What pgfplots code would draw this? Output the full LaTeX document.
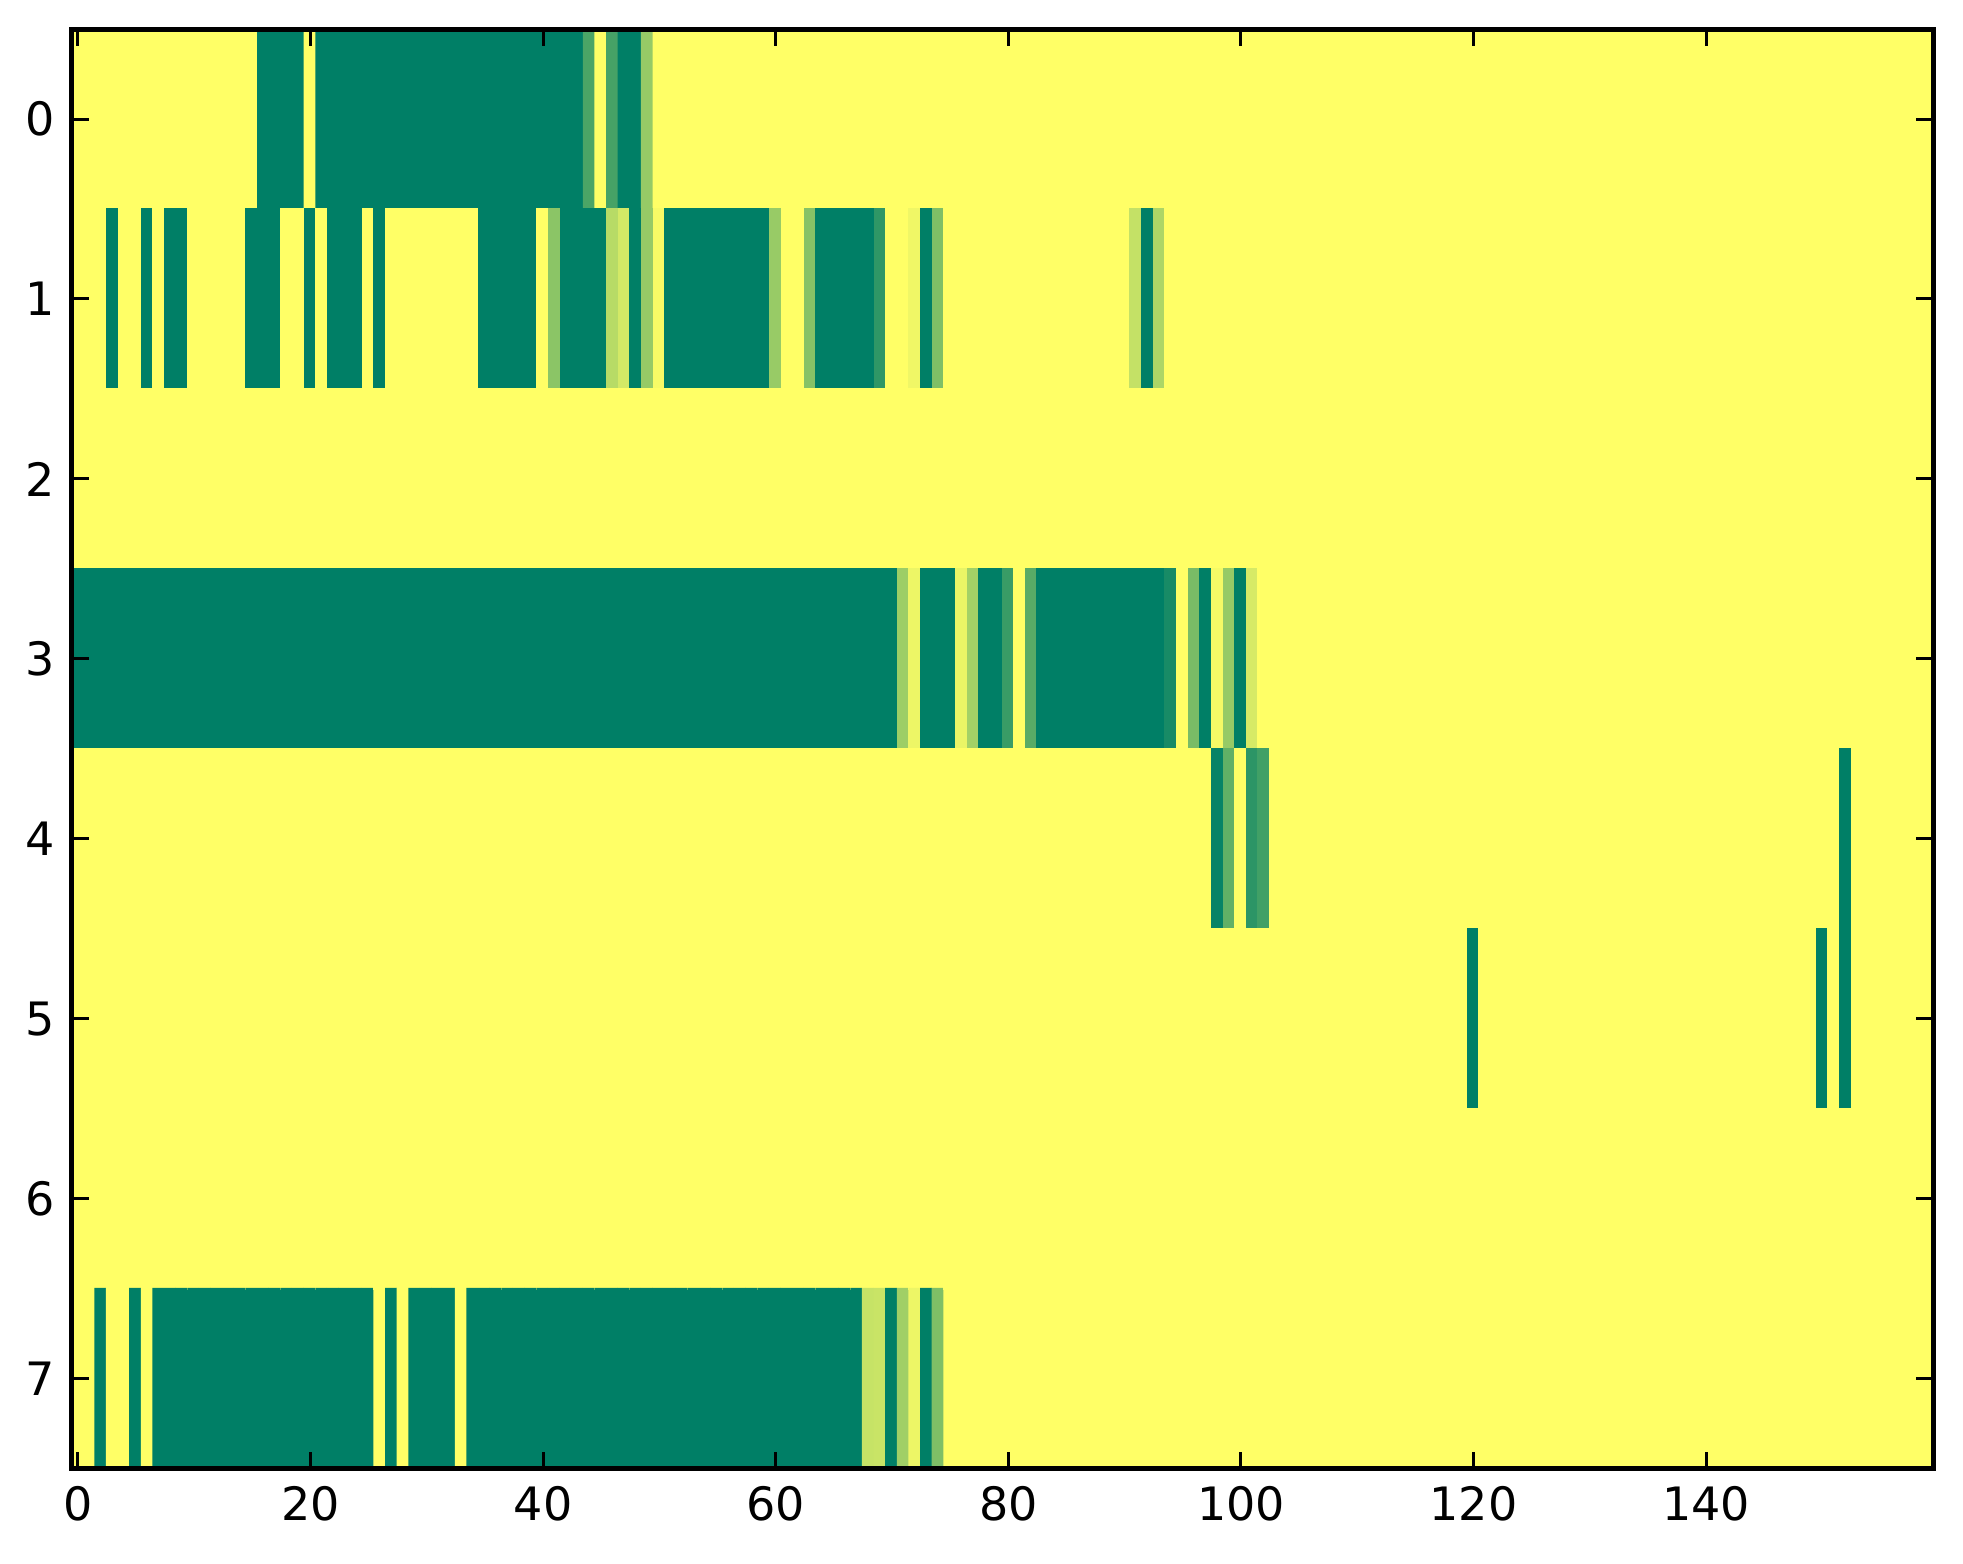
\documentclass[border=0pt]{standalone}
\usepackage{fontspec}
\setmainfont{DejaVu Sans}
\usepackage{pgfplots}
\usepackage{pgfplotstable}
\pgfplotsset{compat=1.18}
\pgfplotstableread[row sep=\\]{
c\\
0\\0\\0\\0\\0\\0\\0\\0\\0\\0\\0\\0\\0\\0\\0\\0\\1\\1\\1\\1\\
0\\1\\1\\1\\1\\1\\1\\1\\1\\1\\1\\1\\1\\1\\1\\1\\1\\1\\1\\1\\
1\\1\\1\\1\\0.7\\0\\0.72\\1\\1\\0.41\\0\\0\\0\\0\\0\\0\\0\\0\\0\\0\\
0\\0\\0\\0\\0\\0\\0\\0\\0\\0\\0\\0\\0\\0\\0\\0\\0\\0\\0\\0\\
0\\0\\0\\0\\0\\0\\0\\0\\0\\0\\0\\0\\0\\0\\0\\0\\0\\0\\0\\0\\
0\\0\\0\\0\\0\\0\\0\\0\\0\\0\\0\\0\\0\\0\\0\\0\\0\\0\\0\\0\\
0\\0\\0\\0\\0\\0\\0\\0\\0\\0\\0\\0\\0\\0\\0\\0\\0\\0\\0\\0\\
0\\0\\0\\0\\0\\0\\0\\0\\0\\0\\0\\0\\0\\0\\0\\0\\0\\0\\0\\0\\
0\\0\\0\\1\\0\\0\\1\\0\\1\\1\\0\\0\\0\\0\\0\\1\\1\\1\\0\\0\\
1\\0\\1\\1\\1\\0\\1\\0\\0\\0\\0\\0\\0\\0\\0\\1\\1\\1\\1\\1\\
0\\0.45\\1\\1\\1\\1\\0.28\\0.17\\1\\0.41\\0.03\\1\\1\\1\\1\\1\\1\\1\\1\\1\\
0.4\\0\\0\\0.47\\1\\1\\1\\1\\1\\0.81\\0\\0\\0.06\\1\\0.5\\0\\0\\0\\0\\0\\
0\\0\\0\\0\\0\\0\\0\\0\\0\\0\\0\\0.23\\1\\0.32\\0\\0\\0\\0\\0\\0\\
0\\0\\0\\0\\0\\0\\0\\0\\0\\0\\0\\0\\0\\0\\0\\0\\0\\0\\0\\0\\
0\\0\\0\\0\\0\\0\\0\\0\\0\\0\\0\\0\\0\\0\\0\\0\\0\\0\\0\\0\\
0\\0\\0\\0\\0\\0\\0\\0\\0\\0\\0\\0\\0\\0\\0\\0\\0\\0\\0\\0\\
0\\0\\0\\0\\0\\0\\0\\0\\0\\0\\0\\0\\0\\0\\0\\0\\0\\0\\0\\0\\
0\\0\\0\\0\\0\\0\\0\\0\\0\\0\\0\\0\\0\\0\\0\\0\\0\\0\\0\\0\\
0\\0\\0\\0\\0\\0\\0\\0\\0\\0\\0\\0\\0\\0\\0\\0\\0\\0\\0\\0\\
0\\0\\0\\0\\0\\0\\0\\0\\0\\0\\0\\0\\0\\0\\0\\0\\0\\0\\0\\0\\
0\\0\\0\\0\\0\\0\\0\\0\\0\\0\\0\\0\\0\\0\\0\\0\\0\\0\\0\\0\\
0\\0\\0\\0\\0\\0\\0\\0\\0\\0\\0\\0\\0\\0\\0\\0\\0\\0\\0\\0\\
0\\0\\0\\0\\0\\0\\0\\0\\0\\0\\0\\0\\0\\0\\0\\0\\0\\0\\0\\0\\
0\\0\\0\\0\\0\\0\\0\\0\\0\\0\\0\\0\\0\\0\\0\\0\\0\\0\\0\\0\\
1\\1\\1\\1\\1\\1\\1\\1\\1\\1\\1\\1\\1\\1\\1\\1\\1\\1\\1\\1\\
1\\1\\1\\1\\1\\1\\1\\1\\1\\1\\1\\1\\1\\1\\1\\1\\1\\1\\1\\1\\
1\\1\\1\\1\\1\\1\\1\\1\\1\\1\\1\\1\\1\\1\\1\\1\\1\\1\\1\\1\\
1\\1\\1\\1\\1\\1\\1\\1\\1\\1\\1\\0.38\\0.07\\1\\1\\1\\0.08\\0.36\\1\\1\\
0.77\\0\\0.65\\1\\1\\1\\1\\1\\1\\1\\1\\1\\1\\1\\0.9\\0\\0.52\\1\\0.04\\0.41\\
1\\0.16\\0\\0\\0\\0\\0\\0\\0\\0\\0\\0\\0\\0\\0\\0\\0\\0\\0\\0\\
0\\0\\0\\0\\0\\0\\0\\0\\0\\0\\0\\0\\0\\0\\0\\0\\0\\0\\0\\0\\
0\\0\\0\\0\\0\\0\\0\\0\\0\\0\\0\\0\\0\\0\\0\\0\\0\\0\\0\\0\\
0\\0\\0\\0\\0\\0\\0\\0\\0\\0\\0\\0\\0\\0\\0\\0\\0\\0\\0\\0\\
0\\0\\0\\0\\0\\0\\0\\0\\0\\0\\0\\0\\0\\0\\0\\0\\0\\0\\0\\0\\
0\\0\\0\\0\\0\\0\\0\\0\\0\\0\\0\\0\\0\\0\\0\\0\\0\\0\\0\\0\\
0\\0\\0\\0\\0\\0\\0\\0\\0\\0\\0\\0\\0\\0\\0\\0\\0\\0\\0\\0\\
0\\0\\0\\0\\0\\0\\0\\0\\0\\0\\0\\0\\0\\0\\0\\0\\0\\0\\0.96\\0.61\\
0\\0.82\\0.74\\0\\0\\0\\0\\0\\0\\0\\0\\0\\0\\0\\0\\0\\0\\0\\0\\0\\
0\\0\\0\\0\\0\\0\\0\\0\\0\\0\\0\\0\\0\\0\\0\\0\\0\\0\\0\\0\\
0\\0\\0\\0\\0\\0\\0\\0\\0\\0\\0\\0\\1\\0\\0\\0\\0\\0\\0\\0\\
0\\0\\0\\0\\0\\0\\0\\0\\0\\0\\0\\0\\0\\0\\0\\0\\0\\0\\0\\0\\
0\\0\\0\\0\\0\\0\\0\\0\\0\\0\\0\\0\\0\\0\\0\\0\\0\\0\\0\\0\\
0\\0\\0\\0\\0\\0\\0\\0\\0\\0\\0\\0\\0\\0\\0\\0\\0\\0\\0\\0\\
0\\0\\0\\0\\0\\0\\0\\0\\0\\0\\0\\0\\0\\0\\0\\0\\0\\0\\0\\0\\
0\\0\\0\\0\\0\\0\\0\\0\\0\\0\\0\\0\\0\\0\\0\\0\\0\\0\\0\\0\\
0\\0\\0\\0\\0\\0\\0\\0\\0\\0\\0\\0\\0\\0\\0\\0\\0\\0\\0\\0\\
1\\0\\0\\0\\0\\0\\0\\0\\0\\0\\0\\0\\0\\0\\0\\0\\0\\0\\0\\0\\
0\\0\\0\\0\\0\\0\\0\\0\\0\\0\\1\\0\\1\\0\\0\\0\\0\\0\\0\\0\\
0\\0\\0\\0\\0\\0\\0\\0\\0\\0\\0\\0\\0\\0\\0\\0\\0\\0\\0\\0\\
0\\0\\0\\0\\0\\0\\0\\0\\0\\0\\0\\0\\0\\0\\0\\0\\0\\0\\0\\0\\
0\\0\\0\\0\\0\\0\\0\\0\\0\\0\\0\\0\\0\\0\\0\\0\\0\\0\\0\\0\\
0\\0\\0\\0\\0\\0\\0\\0\\0\\0\\0\\0\\0\\0\\0\\0\\0\\0\\0\\0\\
0\\0\\0\\0\\0\\0\\0\\0\\0\\0\\0\\0\\0\\0\\0\\0\\0\\0\\0\\0\\
0\\0\\0\\0\\0\\0\\0\\0\\0\\0\\0\\0\\0\\0\\0\\0\\0\\0\\0\\0\\
0\\0\\0\\0\\0\\0\\0\\0\\0\\0\\0\\0\\0\\0\\0\\0\\0\\0\\0\\0\\
0\\0\\0\\0\\0\\0\\0\\0\\0\\0\\0\\0\\0\\0\\0\\0\\0\\0\\0\\0\\
0\\0\\1\\0\\0\\1\\0\\1\\1\\1\\1\\1\\1\\1\\1\\1\\1\\1\\1\\1\\
1\\1\\1\\1\\1\\1\\0\\1\\0\\1\\1\\1\\1\\0\\1\\1\\1\\1\\1\\1\\
1\\1\\1\\1\\1\\1\\1\\1\\1\\1\\1\\1\\1\\1\\1\\1\\1\\1\\1\\1\\
1\\1\\1\\1\\1\\1\\1\\1\\0.22\\0.21\\1\\0.37\\0.07\\1\\0.5\\0\\0\\0\\0\\0\\
0\\0\\0\\0\\0\\0\\0\\0\\0\\0\\0\\0\\0\\0\\0\\0\\0\\0\\0\\0\\
0\\0\\0\\0\\0\\0\\0\\0\\0\\0\\0\\0\\0\\0\\0\\0\\0\\0\\0\\0\\
0\\0\\0\\0\\0\\0\\0\\0\\0\\0\\0\\0\\0\\0\\0\\0\\0\\0\\0\\0\\
0\\0\\0\\0\\0\\0\\0\\0\\0\\0\\0\\0\\0\\0\\0\\0\\0\\0\\0\\0\\
}\griddata
\begin{document}
\begin{tikzpicture}
\begin{axis}[
  scale only axis, width=372.2pt, height=288pt,
  xmin=-0.5, xmax=159.5, ymin=-0.5, ymax=7.5, y dir=reverse,
  xtick={0,20,...,140}, ytick={0,1,...,7},
  tick align=inside, major tick length=3.4pt,
  axis line style={line width=1pt},
  every tick/.style={black, line width=0.6pt},
  tick label style={font=\fontsize{9.2}{11}\selectfont},
  /pgf/number format/assume math mode=true,
  colormap={summerr}{rgb255=(255,255,102) rgb255=(0,127,102)},
  point meta min=0, point meta max=1,
  axis on top,
]
\addplot[matrix plot*, mesh/cols=160, mesh/rows=8, point meta=explicit]
  table[x index=0, y index=0, x expr={mod(\coordindex,160)}, y expr={floor(\coordindex/160)}, meta=c] {\griddata};
\end{axis}
\path[use as bounding box] ([xshift=-14.4pt,yshift=-19pt]current axis.south west) rectangle ([xshift=6pt,yshift=5.8pt]current axis.north east);
\end{tikzpicture}
\end{document}
